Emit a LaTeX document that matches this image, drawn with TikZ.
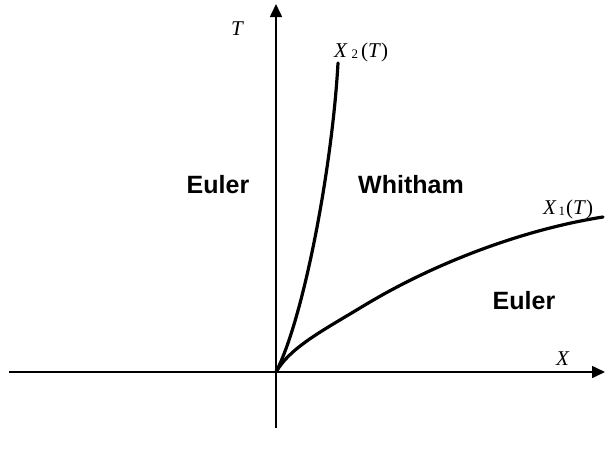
\documentclass[tikz,border=0pt]{standalone}
\usepackage{fontspec}
\setmainfont{Liberation Serif}
\newfontfamily\regionfont{Liberation Sans}
\usepackage{tikz}
\usetikzlibrary{arrows.meta,positioning,calc}
\newcommand{\lowsub}[1]{\raisebox{-1.5pt}{\fontsize{13}{15}\selectfont #1}}
\tikzset{
  axisline/.style={-{Triangle[length=13pt,width=12pt]},line width=1.6pt},
  branchcurve/.style={line width=3.2pt,line cap=round},
  regionlabel/.style={font=\regionfont\fontsize{25}{29}\selectfont\bfseries,inner sep=0pt},
  coordlabel/.style={font=\fontsize{21}{25}\selectfont,inner sep=0pt}
}
\begin{document}
\begin{tikzpicture}[x=1pt,y=-1pt]
\useasboundingbox (0,0) rectangle (607,451);
\coordinate (origin) at (276,372);
\coordinate (xleft) at (9,372);
\coordinate (xright) at (605,372);
\coordinate (tbottom) at (276,428);
\coordinate (ttop) at (276,4);
\coordinate (xtwoend) at (338,63);
\coordinate (xoneend) at (603,217);
\draw[axisline] (xleft) -- (xright);
\draw[axisline] (tbottom) -- (ttop);
% the two branches
\draw[branchcurve] (origin) .. controls (303,320) and (332,170) .. (xtwoend);
\draw[branchcurve] (origin) .. controls (290,348) and (320,332) .. (360,308)
  .. controls (430,265) and (520,230) .. (xoneend);
% labels
\node[coordlabel,anchor=base west] (tlabel) at (231,35) {\textit{T}};
\node[coordlabel,anchor=base west] (xlabel) at (556,365) {\textit{X}};
\node[coordlabel,anchor=base west] (xtwolabel) at (334,57)
  {\textit{X}\kern4pt\lowsub{2}\kern3pt(\textit{T})};
\node[coordlabel,anchor=base west] (xonelabel) at (543,214)
  {\textit{X}\kern2pt\lowsub{1}\kern1pt(\textit{T})};
\node[regionlabel] (eulerleft) at (218,185) {Euler};
\node[regionlabel] (whitham) at (411,185) {Whitham};
\node[regionlabel] (eulerright) at (524,301) {Euler};
\end{tikzpicture}
\end{document}
